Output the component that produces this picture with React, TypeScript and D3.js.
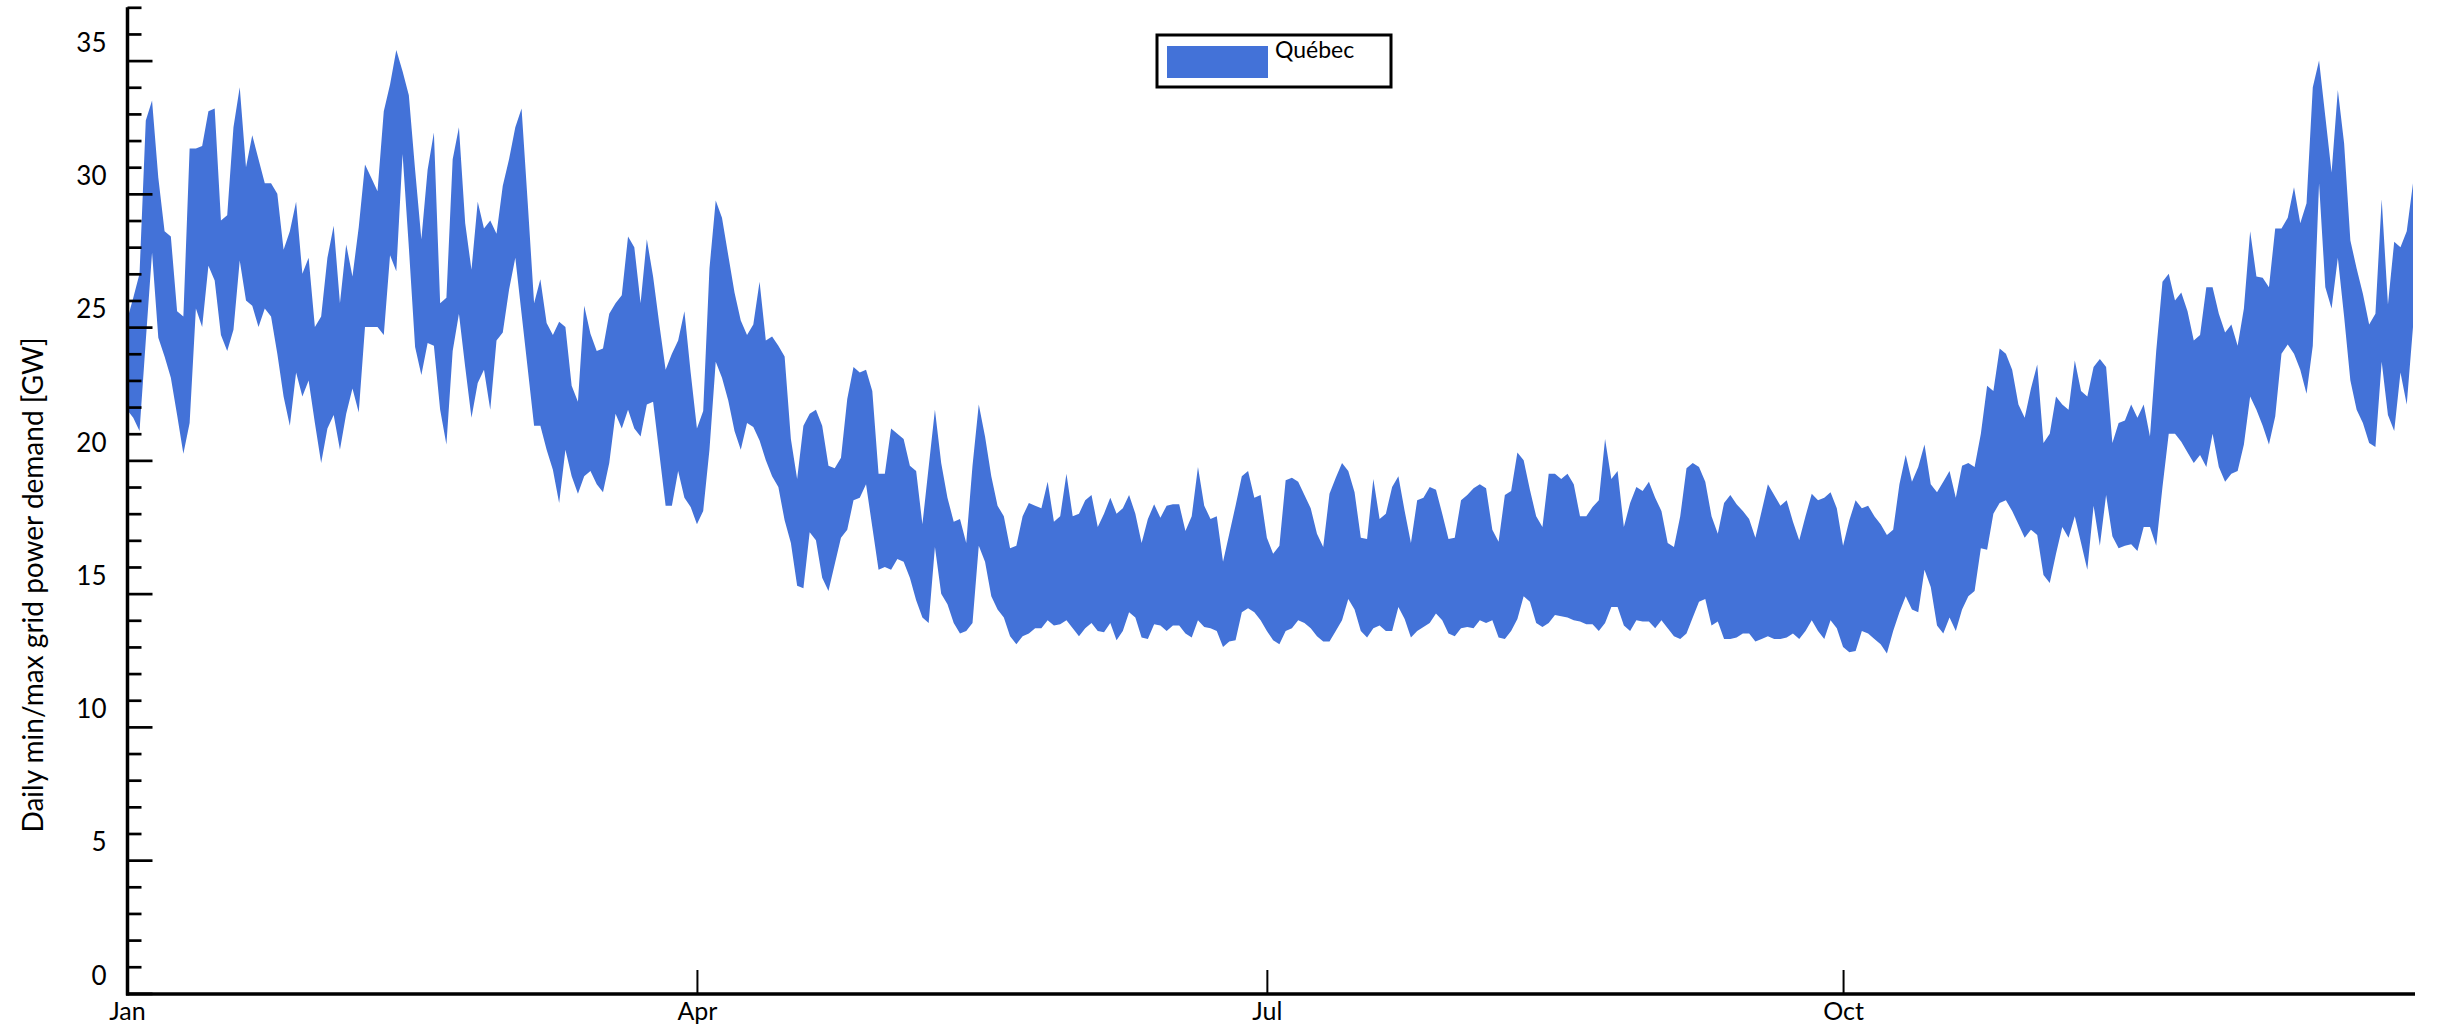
import { useEffect, useRef } from "react";
import * as d3 from "d3";

const startDate = new Date(2020, 0, 1);
const endDate = new Date(2020, 11, 31);

// daily max, GW (Jan 1 .. Dec 31 2020)
const maxDemand = [
  25.25, 26.1, 27.0, 32.75, 33.5, 30.6, 28.6, 28.4, 25.6, 25.4,
  31.7, 31.7, 31.8, 33.1, 33.2, 29.0, 29.2, 32.5, 34.0, 31.0,
  32.2, 31.3, 30.4, 30.4, 30.0, 27.9, 28.6, 29.7, 27.0, 27.6,
  25.0, 25.4, 27.6, 28.8, 25.9, 28.1, 26.9, 28.75, 31.1, 30.6,
  30.1, 33.1, 34.1, 35.4, 34.6, 33.7, 30.9, 28.3, 30.9, 32.3,
  25.9, 26.1, 31.3, 32.5, 28.9, 27.15, 29.7, 28.7, 29.0, 28.5,
  30.3, 31.3, 32.5, 33.2, 29.6, 25.9, 26.8, 25.15, 24.7, 25.2,
  25.0, 22.8, 22.2, 25.8, 24.75, 24.1, 24.2, 25.5, 25.9, 26.2,
  28.4, 28.0, 25.9, 28.3, 26.9, 25.1, 23.4, 24.0, 24.5, 25.6,
  23.3, 21.2, 21.85, 27.2, 29.75, 29.1, 27.7, 26.3, 25.25, 24.7,
  25.1, 26.7, 24.5, 24.65, 24.3, 23.9, 20.8, 19.3, 21.3, 21.75,
  21.9, 21.3, 19.8, 19.7, 20.1, 22.3, 23.5, 23.3, 23.4, 22.6,
  19.5, 19.5, 21.2, 21.0, 20.8, 19.8, 19.6, 17.6, 19.75, 21.9,
  19.9, 18.6, 17.7, 17.8, 16.9, 19.8, 22.1, 20.9, 19.4, 18.3,
  17.9, 16.7, 16.8, 17.9, 18.4, 18.3, 18.2, 19.2, 17.7, 17.9,
  19.5, 17.9, 18.0, 18.5, 18.7, 17.5, 18.0, 18.6, 18.0, 18.2,
  18.7, 18.0, 16.9, 17.8, 18.35, 17.85, 18.3, 18.35, 18.35, 17.35,
  17.9, 19.75, 18.3, 17.8, 17.9, 16.2, 17.25, 18.3, 19.4, 19.6,
  18.6, 18.7, 17.1, 16.5, 16.8, 19.25, 19.35, 19.2, 18.7, 18.2,
  17.25, 16.75, 18.75, 19.35, 19.9, 19.6, 18.8, 17.1, 17.05, 19.3,
  17.8, 18.0, 19.0, 19.4, 18.1, 16.9, 18.5, 18.6, 19.0, 18.9,
  18.0, 17.05, 17.1, 18.5, 18.7, 18.95, 19.1, 18.95, 17.4, 16.95,
  18.7, 18.85, 20.3, 20.0, 18.9, 17.9, 17.5, 19.5, 19.5, 19.3,
  19.5, 19.1, 17.9, 17.9, 18.25, 18.5, 20.8, 19.3, 19.6, 17.5,
  18.4, 19.0, 18.85, 19.2, 18.6, 18.1, 16.9, 16.75, 17.9, 19.7,
  19.9, 19.75, 19.2, 17.9, 17.25, 18.4, 18.7, 18.35, 18.1, 17.8,
  17.1, 18.1, 19.1, 18.7, 18.3, 18.5, 17.7, 17.0, 17.9, 18.75,
  18.5, 18.6, 18.8, 18.2, 16.8, 17.75, 18.5, 18.2, 18.3, 17.9,
  17.6, 17.2, 17.4, 19.1, 20.2, 19.2, 19.75, 20.6, 19.1, 18.8,
  19.2, 19.6, 18.6, 19.8, 19.9, 19.75, 21.0, 22.8, 22.6, 24.2,
  24.0, 23.4, 22.1, 21.6, 22.7, 23.6, 20.65, 21.0, 22.4, 22.1,
  21.9, 23.75, 22.6, 22.4, 23.5, 23.8, 23.5, 20.65, 21.4, 21.5,
  22.1, 21.6, 22.1, 20.9, 24.1, 26.7, 27.0, 26.0, 26.3, 25.6,
  24.5, 24.7, 26.5, 26.5, 25.5, 24.8, 25.1, 24.3, 25.7, 28.6,
  26.9, 26.85, 26.5, 28.7, 28.7, 29.1, 30.25, 28.9, 29.65, 34.0,
  35.0, 32.9, 30.8, 33.9, 31.9, 28.25, 27.2, 26.25, 25.1, 25.5,
  29.8, 25.85, 28.2, 28.0, 28.6, 30.4,
];

// daily min, GW
const minDemand = [
  21.9, 21.6, 21.1, 24.5, 27.8, 24.6, 23.9, 23.1, 21.7, 20.25,
  21.4, 25.7, 25.0, 27.3, 26.75, 24.7, 24.1, 24.9, 27.5, 26.0,
  25.8, 25.0, 25.7, 25.4, 24.0, 22.4, 21.3, 23.3, 22.4, 23.0,
  21.4, 19.9, 21.2, 21.7, 20.4, 21.75, 22.7, 21.8, 25.0, 25.0,
  25.0, 24.7, 27.7, 27.1, 31.5, 28.0, 24.25, 23.2, 24.4, 24.3,
  21.9, 20.6, 24.1, 25.5, 23.5, 21.6, 22.9, 23.4, 21.9, 24.5,
  24.8, 26.4, 27.6, 25.5, 23.4, 21.3, 21.3, 20.4, 19.65, 18.4,
  20.4, 19.4, 18.75, 19.4, 19.6, 19.1, 18.8, 19.9, 21.75, 21.2,
  21.9, 21.2, 20.9, 22.1, 22.2, 20.25, 18.3, 18.3, 19.6, 18.6,
  18.25, 17.6, 18.1, 20.4, 23.7, 23.1, 22.25, 21.1, 20.4, 21.4,
  21.25, 20.75, 20.0, 19.4, 19.0, 17.75, 16.9, 15.3, 15.2, 17.3,
  17.0, 15.6, 15.1, 16.1, 17.1, 17.4, 18.5, 18.6, 19.1, 17.5,
  15.9, 16.0, 15.9, 16.3, 16.2, 15.6, 14.75, 14.1, 13.9, 16.75,
  15.0, 14.6, 13.9, 13.5, 13.6, 13.9, 16.8, 16.2, 14.9, 14.4,
  14.1, 13.4, 13.1, 13.4, 13.5, 13.7, 13.7, 14.0, 13.8, 13.85,
  14.0, 13.7, 13.4, 13.7, 13.9, 13.6, 13.55, 13.9, 13.25, 13.6,
  14.3, 14.1, 13.35, 13.3, 13.85, 13.8, 13.6, 13.8, 13.8, 13.5,
  13.35, 14.0, 13.75, 13.7, 13.6, 13.0, 13.2, 13.25, 14.3, 14.45,
  14.3, 14.0, 13.6, 13.25, 13.1, 13.6, 13.7, 14.0, 13.9, 13.7,
  13.4, 13.2, 13.2, 13.6, 14.0, 14.8, 14.4, 13.6, 13.35, 13.7,
  13.8, 13.6, 13.6, 14.5, 14.05, 13.35, 13.6, 13.75, 13.9, 14.25,
  14.0, 13.5, 13.4, 13.7, 13.75, 13.7, 14.0, 13.9, 14.0, 13.35,
  13.3, 13.6, 14.05, 14.9, 14.7, 13.9, 13.75, 13.9, 14.2, 14.15,
  14.1, 14.0, 13.95, 13.85, 13.85, 13.6, 13.9, 14.5, 14.5, 13.8,
  13.6, 14.0, 13.95, 13.95, 13.7, 14.0, 13.7, 13.4, 13.3, 13.5,
  14.1, 14.7, 14.8, 13.8, 13.95, 13.3, 13.3, 13.35, 13.5, 13.5,
  13.2, 13.3, 13.4, 13.3, 13.3, 13.35, 13.5, 13.3, 13.6, 14.0,
  13.6, 13.3, 14.0, 13.7, 13.0, 12.8, 12.85, 13.6, 13.5, 13.3,
  13.1, 12.75, 13.6, 14.3, 14.9, 14.4, 14.3, 15.9, 15.25, 13.8,
  13.5, 14.1, 13.6, 14.4, 14.9, 15.1, 16.7, 16.65, 18.0, 18.4,
  18.5, 18.1, 17.6, 17.1, 17.4, 17.2, 15.7, 15.4, 16.5, 17.5,
  17.1, 17.9, 16.9, 15.9, 18.3, 16.8, 18.7, 17.15, 16.7, 16.8,
  16.85, 16.6, 17.5, 17.5, 16.8, 19.0, 21.0, 21.0, 20.7, 20.3,
  19.9, 20.2, 19.75, 21.0, 19.75, 19.2, 19.5, 19.6, 20.6, 22.4,
  21.9, 21.3, 20.6, 21.65, 24.0, 24.35, 24.0, 23.4, 22.5, 24.3,
  30.4, 26.5, 25.7, 27.6, 25.4, 23.0, 21.9, 21.4, 20.65, 20.5,
  23.7, 21.7, 21.1, 23.3, 22.1, 25.0,
];

const monthTicks = [
  new Date(2020, 0, 1),
  new Date(2020, 3, 1),
  new Date(2020, 6, 1),
  new Date(2020, 9, 1),
];
const monthLabels = ["Jan", "Apr", "Jul", "Oct"];
const majorTicks = [0, 5, 10, 15, 20, 25, 30, 35];
const minorTicks = d3.range(0, 38).filter(v => v % 5 !== 0);
const seriesName = "Québec";
const yTitle = "Daily min/max grid power demand [GW]";

const FONT = "Lato, 'Open Sans', sans-serif";
const FILL = "#4372d8";

export default function App() {
  const svgRef = useRef(null);

  useEffect(() => {
    document.body.style.margin = "0";
    const width = 2440;
    const height = 1032;

    const svg = d3.select(svgRef.current);
    svg.selectAll("*").remove();
    svg
      .attr("width", width)
      .attr("height", height)
      .style("display", "block")
      .style("background", "#fff");

    const data = maxDemand.map((hi, i) => ({
      date: d3.timeDay.offset(startDate, i),
      hi,
      lo: minDemand[i],
    }));

    const x = d3.scaleTime().domain([startDate, endDate]).range([127, 2413]);
    const y = d3.scaleLinear().domain([0, 37]).range([993.4, 7.3]);

    // band
    const area = d3
      .area()
      .x(d => x(d.date))
      .y0(d => y(d.lo))
      .y1(d => y(d.hi));

    svg.append("path").datum(data).attr("fill", FILL).attr("d", area);

    // y axis: minor ticks
    svg
      .append("g")
      .attr("transform", "translate(127.5,0)")
      .call(d3.axisLeft(y).tickValues(minorTicks).tickSizeInner(-14).tickSizeOuter(0).tickFormat(() => ""))
      .call(g => g.select(".domain").remove())
      .call(g => g.selectAll("line").attr("stroke", "#000").attr("stroke-width", 2.7));

    // y axis: major ticks + labels
    svg
      .append("g")
      .attr("transform", "translate(127.5,0)")
      .call(d3.axisLeft(y).tickValues(majorTicks).tickSizeInner(-25).tickSizeOuter(0).tickPadding(21))
      .call(g => g.select(".domain").remove())
      .call(g => g.selectAll("line").attr("stroke", "#000").attr("stroke-width", 2.7))
      .call(g =>
        g
          .selectAll("text")
          .attr("y", -17.5)
          .attr("fill", "#000")
          .style("font-family", FONT)
          .style("font-size", "26px")
      );

    svg
      .append("line")
      .attr("x1", 127.5)
      .attr("x2", 127.5)
      .attr("y1", y(37))
      .attr("y2", 995.5)
      .attr("stroke", "#000")
      .attr("stroke-width", 3.5);

    // x axis
    svg
      .append("g")
      .attr("transform", "translate(0,994)")
      .call(
        d3
          .axisBottom(x)
          .tickValues(monthTicks)
          .tickSizeInner(-24)
          .tickSizeOuter(0)
          .tickPadding(8)
          .tickFormat((d, i) => monthLabels[i])
      )
      .call(g => g.select(".domain").remove())
      .call(g => g.selectAll("line").attr("stroke", "#000").attr("stroke-width", 2))
      .call(g =>
        g
          .selectAll("text")
          .attr("fill", "#000")
          .style("font-family", FONT)
          .style("font-size", "25px")
      );

    svg
      .append("line")
      .attr("x1", 126)
      .attr("x2", 2415)
      .attr("y1", 994)
      .attr("y2", 994)
      .attr("stroke", "#000")
      .attr("stroke-width", 3.5);

    // y title
    svg
      .append("text")
      .attr("transform", "translate(32,585) rotate(-90)")
      .attr("text-anchor", "middle")
      .attr("dominant-baseline", "central")
      .attr("fill", "#000")
      .style("font-family", FONT)
      .style("font-size", "28px")
      .text(yTitle);

    // legend
    const legend = svg.append("g");
    legend
      .append("rect")
      .attr("x", 1157)
      .attr("y", 35)
      .attr("width", 234)
      .attr("height", 52)
      .attr("fill", "#fff")
      .attr("stroke", "#000")
      .attr("stroke-width", 3);
    legend
      .append("rect")
      .attr("x", 1167)
      .attr("y", 46)
      .attr("width", 101)
      .attr("height", 32)
      .attr("fill", FILL);
    legend
      .append("text")
      .attr("x", 1275)
      .attr("y", 58)
      .attr("fill", "#000")
      .style("font-family", FONT)
      .style("font-size", "23px")
      .text(seriesName);
  }, []);

  return <svg ref={svgRef}></svg>;
}
